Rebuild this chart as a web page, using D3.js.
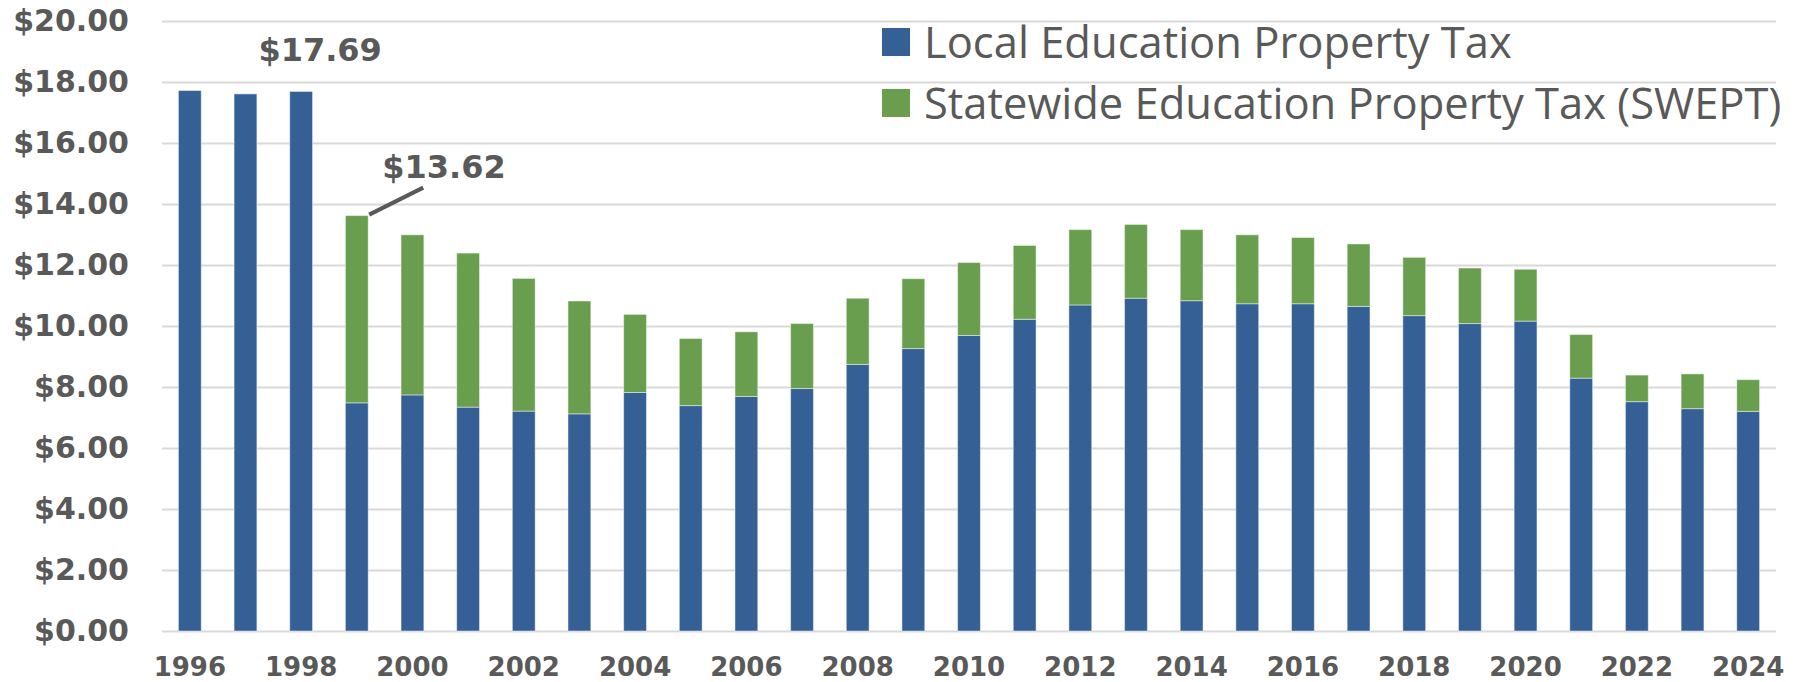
<!DOCTYPE html>
<html>
<head>
<meta charset="utf-8">
<script src="https://cdn.jsdelivr.net/npm/d3@7"></script>
<style>
  html, body { margin: 0; padding: 0; background: #fff; }
  svg { display: block; }
</style>
</head>
<body>
<script>
// Years on the x axis
const years = ["1996","1997","1998","1999","2000","2001","2002","2003","2004","2005",
  "2006","2007","2008","2009","2010","2011","2012","2013","2014","2015",
  "2016","2017","2018","2019","2020","2021","2022","2023","2024"];

// Local education property tax (bottom segment)
const localTax = [17.72, 17.61, 17.69, 7.48, 7.74, 7.34, 7.21, 7.12, 7.82, 7.39,
  7.69, 7.95, 8.74, 9.26, 9.69, 10.22, 10.69, 10.91, 10.83, 10.73,
  10.73, 10.64, 10.34, 10.08, 10.16, 8.29, 7.52, 7.29, 7.20];

// Statewide education property tax (top segment)
const sweptTax = [0, 0, 0, 6.14, 5.25, 5.05, 4.35, 3.70, 2.56, 2.20,
  2.12, 2.13, 2.17, 2.29, 2.39, 2.42, 2.47, 2.42, 2.33, 2.26,
  2.17, 2.05, 1.91, 1.82, 1.70, 1.43, 0.87, 1.14, 1.04];

const seriesNames = ["Local Education Property Tax", "Statewide Education Property Tax (SWEPT)"];
const yTicks = [0, 2, 4, 6, 8, 10, 12, 14, 16, 18, 20];
const xTickLabels = ["1996","1998","2000","2002","2004","2006","2008","2010","2012","2014",
  "2016","2018","2020","2022","2024"];

// callouts: year and total shown
const callouts = [{ year: "1998", value: 17.69 }, { year: "1999", value: 13.62 }];

const w = 1806;
const h = 682;
const colors = ["#356096", "#6a9e4f"];
const textColor = "#595959";

const svg = d3.select("body")
  .append("svg")
  .attr("width", w)
  .attr("height", h);

const x = d3.scaleBand()
  .domain(years)
  .range([162, 1776])
  .paddingInner(0.59)
  .paddingOuter(0.295);

const y = d3.scaleLinear()
  .domain([0, 20])
  .range([631, 21]);

// gridlines + y labels
const yAxis = svg.append("g")
  .attr("transform", "translate(162,0)")
  .call(d3.axisLeft(y)
    .tickValues(yTicks)
    .tickSize(-(1776 - 162))
    .tickPadding(33)
    .tickFormat(d => "$" + d.toFixed(2)));
yAxis.select(".domain").remove();
yAxis.selectAll(".tick line")
  .attr("stroke", "#d9d9d9")
  .attr("stroke-width", 2);
yAxis.selectAll(".tick text")
  .attr("fill", textColor)
  .style("font-family", "'DejaVu Sans', sans-serif")
  .style("font-weight", "bold")
  .style("font-size", "30px");

// stacked bars
const rows = years.map((yr, i) => ({ year: yr, local: localTax[i], swept: sweptTax[i] }));
const stack = d3.stack().keys(["local", "swept"]);
const stacked = stack(rows);

svg.append("g")
  .selectAll("g")
  .data(stacked)
  .enter()
  .append("g")
  .attr("fill", (d, i) => colors[i])
  .selectAll("rect")
  .data(d => d.filter(p => p[1] - p[0] > 0))
  .enter()
  .append("rect")
  .attr("x", d => x(d.data.year))
  .attr("y", d => y(d[1]))
  .attr("width", x.bandwidth())
  .attr("height", d => y(d[0]) - y(d[1]))
  .attr("stroke", "rgba(255,255,255,0.45)")
  .attr("stroke-width", 1);

// x axis labels
const xAxis = svg.append("g")
  .attr("transform", "translate(0,631)")
  .call(d3.axisBottom(x)
    .tickValues(xTickLabels)
    .tickSize(0)
    .tickPadding(27));
xAxis.select(".domain").remove();
xAxis.selectAll(".tick text")
  .attr("fill", textColor)
  .style("font-family", "'DejaVu Sans', sans-serif")
  .style("font-weight", "bold")
  .style("font-size", "26px");

// callouts
const c0 = callouts[0];
svg.append("text")
  .attr("x", x(c0.year) + x.bandwidth() / 2 + 19)
  .attr("y", y(c0.value) - 30)
  .attr("text-anchor", "middle")
  .attr("fill", textColor)
  .style("font-family", "'DejaVu Sans', sans-serif")
  .style("font-weight", "bold")
  .style("font-size", "32px")
  .text("$" + c0.value.toFixed(2));

const c1 = callouts[1];
const cx1 = x(c1.year) + x.bandwidth();
const cy1 = y(c1.value);
svg.append("line")
  .attr("x1", cx1 + 1)
  .attr("y1", cy1 - 1)
  .attr("x2", cx1 + 55)
  .attr("y2", cy1 - 28)
  .attr("stroke", textColor)
  .attr("stroke-width", 4);
svg.append("text")
  .attr("x", cx1 + 14)
  .attr("y", cy1 - 38)
  .attr("fill", textColor)
  .style("font-family", "'DejaVu Sans', sans-serif")
  .style("font-weight", "bold")
  .style("font-size", "32px")
  .text("$" + c1.value.toFixed(2));

// legend
const legend = svg.append("g")
  .attr("transform", "translate(882,28)");
const item = legend.selectAll("g")
  .data(seriesNames)
  .enter()
  .append("g")
  .attr("transform", (d, i) => `translate(0, ${i * 61})`);
item.append("rect")
  .attr("width", 28)
  .attr("height", 28)
  .attr("fill", (d, i) => colors[i]);
item.append("text")
  .attr("x", 42)
  .attr("y", 14)
  .attr("dy", "0.36em")
  .attr("fill", textColor)
  .style("font-family", "'Open Sans', sans-serif")
  .style("font-size", "43.5px")
  .text(d => d);
</script>
</body>
</html>
